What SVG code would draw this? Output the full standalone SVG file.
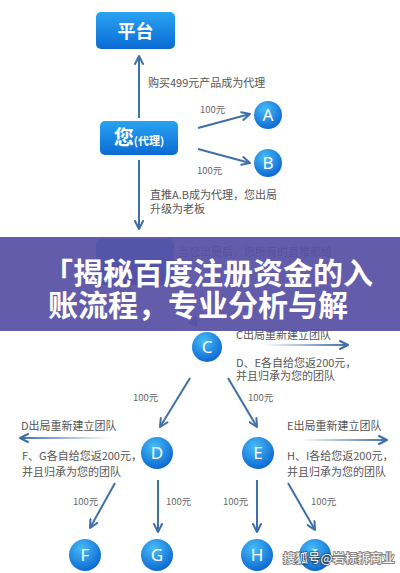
<svg xmlns="http://www.w3.org/2000/svg" width="400" height="573" viewBox="0 0 400 573">
<style>
.t{font-family:"Noto Sans CJK SC","Noto Sans",sans-serif;fill:#555;font-size:11px}
.s{font-family:"Noto Sans CJK SC","Noto Sans",sans-serif;fill:#666;font-size:9.5px}
.bx{fill:url(#gBox)}
.bt{font-family:"Noto Sans CJK SC","Noto Sans",sans-serif;fill:#fff;font-weight:700;text-anchor:middle}
.c{fill:url(#gCir)}
.ct{font-family:"Noto Sans","DejaVu Sans",sans-serif;fill:#fff;font-size:17px;text-anchor:middle}
.ln{stroke:#3f6fa8;stroke-width:2;fill:none;marker-end:url(#ah)}
.title{font-family:"Noto Sans CJK SC",sans-serif;font-weight:700;font-size:30px;fill:#fff}
</style>
<defs>
<linearGradient id="gBox" x1="0" y1="0" x2="0" y2="1">
<stop offset="0" stop-color="#2aa3f2"/><stop offset="1" stop-color="#0b6bd4"/>
</linearGradient>
<radialGradient id="gCir" cx="0.4" cy="0.3" r="0.75">
<stop offset="0" stop-color="#47bdf7"/><stop offset="1" stop-color="#0a63cf"/>
</radialGradient>
<linearGradient id="gR1" gradientUnits="userSpaceOnUse" x1="263" y1="0" x2="348" y2="0">
<stop offset="0" stop-color="#3f6fa8" stop-opacity="0"/><stop offset="1" stop-color="#3f6fa8"/>
</linearGradient>
<linearGradient id="gL" gradientUnits="userSpaceOnUse" x1="110" y1="0" x2="20" y2="0">
<stop offset="0" stop-color="#3f6fa8" stop-opacity="0"/><stop offset="1" stop-color="#3f6fa8"/>
</linearGradient>
<linearGradient id="gR2" gradientUnits="userSpaceOnUse" x1="300" y1="0" x2="387" y2="0">
<stop offset="0" stop-color="#3f6fa8" stop-opacity="0"/><stop offset="1" stop-color="#3f6fa8"/>
</linearGradient>
<marker id="ah" viewBox="0 0 10 10" refX="9" refY="5" markerWidth="5" markerHeight="5" orient="auto" markerUnits="strokeWidth">
<path d="M1,1 L9,5 L1,9" fill="none" stroke="#3f6fa8" stroke-width="2" stroke-linecap="round" stroke-linejoin="round"/>
</marker>
</defs>
<rect width="400" height="573" fill="#fff"/>

<g id="connectors">
<line class="ln" x1="139" y1="118" x2="139" y2="56"/>
<line class="ln" x1="198" y1="128" x2="250" y2="114"/>
<line class="ln" x1="198" y1="149" x2="250" y2="163"/>
<line class="ln" x1="139" y1="160" x2="139" y2="229"/>
<line class="ln" x1="175" y1="300" x2="197" y2="326"/>
<line class="ln" x1="263" y1="345" x2="348" y2="345" style="stroke:url(#gR1)"/>
<line class="ln" x1="190" y1="378" x2="160" y2="427"/>
<line class="ln" x1="228" y1="378" x2="257" y2="427"/>
<line class="ln" x1="110" y1="438" x2="20" y2="438" style="stroke:url(#gL)"/>
<line class="ln" x1="300" y1="440" x2="387" y2="440" style="stroke:url(#gR2)"/>
<line class="ln" x1="115" y1="483" x2="90" y2="528"/>
<line class="ln" x1="158" y1="480" x2="158" y2="532"/>
<line class="ln" x1="257" y1="480" x2="257" y2="532"/>
<line class="ln" x1="288" y1="483" x2="315" y2="530"/>
</g>

<g id="labels">
<text class="t" x="148" y="87">购买499元产品成为代理</text>
<text class="s" x="200" y="113">100元</text>
<text class="s" x="197" y="174">100元</text>
<text class="t" x="150" y="199">直推A.B成为代理，您出局</text>
<text class="t" x="150" y="213">升级为老板</text>
<text class="t" x="178" y="256">当您出局后，您所有的直推都给</text>
<text class="t" x="236" y="339">C出局重新建立团队</text>
<text class="t" x="236" y="367">D、E各自给您返200元，</text>
<text class="t" x="236" y="380">并且归承为您的团队</text>
<text class="s" x="133" y="401">100元</text>
<text class="s" x="248" y="401">100元</text>
<text class="t" x="21" y="430">D出局重新建立团队</text>
<text class="t" x="287" y="430">E出局重新建立团队</text>
<text class="t" x="22" y="460">F、G各自给您返200元，</text>
<text class="t" x="22" y="476">并且归承为您的团队</text>
<text class="t" x="287" y="460">H、I各给您返200元，</text>
<text class="t" x="287" y="476">并且归承为您的团队</text>
<text class="s" x="73" y="505">100元</text>
<text class="s" x="166" y="505">100元</text>
<text class="s" x="223" y="505">100元</text>
<text class="s" x="311" y="505">100元</text>
</g>

<g id="node-platform">
<rect class="bx" x="96" y="12" width="79" height="37" rx="5"/>
<text class="bt" x="135.5" y="37.5" font-size="18">平台</text>
</g>
<g id="node-you">
<rect class="bx" x="100" y="121" width="78" height="34" rx="5"/>
<text class="bt" x="139" y="145"><tspan font-size="20">您</tspan><tspan font-size="11">(代理)</tspan></text>
</g>
<g id="node-you2">
<rect class="bx" x="96" y="239" width="78" height="46" rx="5"/>
</g>
<g id="node-A"><circle class="c" cx="268" cy="115" r="14"/><text class="ct" x="268" y="121">A</text></g>
<g id="node-B"><circle class="c" cx="268" cy="163" r="14"/><text class="ct" x="268" y="169">B</text></g>
<g id="node-C"><circle class="c" cx="207" cy="347" r="15"/><text class="ct" x="207" y="353">C</text></g>
<g id="node-D"><circle class="c" cx="157" cy="453" r="16"/><text class="ct" x="157" y="459">D</text></g>
<g id="node-E"><circle class="c" cx="258" cy="453" r="16"/><text class="ct" x="258" y="459">E</text></g>
<g id="node-F"><circle class="c" cx="85" cy="555" r="16"/><text class="ct" x="85" y="561">F</text></g>
<g id="node-G"><circle class="c" cx="157" cy="555" r="16"/><text class="ct" x="157" y="561">G</text></g>
<g id="node-H"><circle class="c" cx="257" cy="555" r="16"/><text class="ct" x="257" y="561">H</text></g>
<g id="node-I"><circle class="c" cx="315" cy="555" r="16"/><text class="ct" x="315" y="561">I</text></g>

<g id="banner">
<rect x="0" y="237" width="400" height="94" fill="#5750a5" opacity="0.93"/>
<text class="title" x="43" y="284">「揭秘百度注册资金的入</text>
<text class="title" x="48" y="316">账流程，专业分析与解</text>
</g>

<g id="watermark">
<text x="283" y="563" font-family="Noto Sans CJK SC,sans-serif" font-size="12.5" fill="#fff" stroke="#333" stroke-width="2" paint-order="stroke" stroke-opacity="0.6">搜狐号@岩标拆商业</text>
</g>
</svg>
